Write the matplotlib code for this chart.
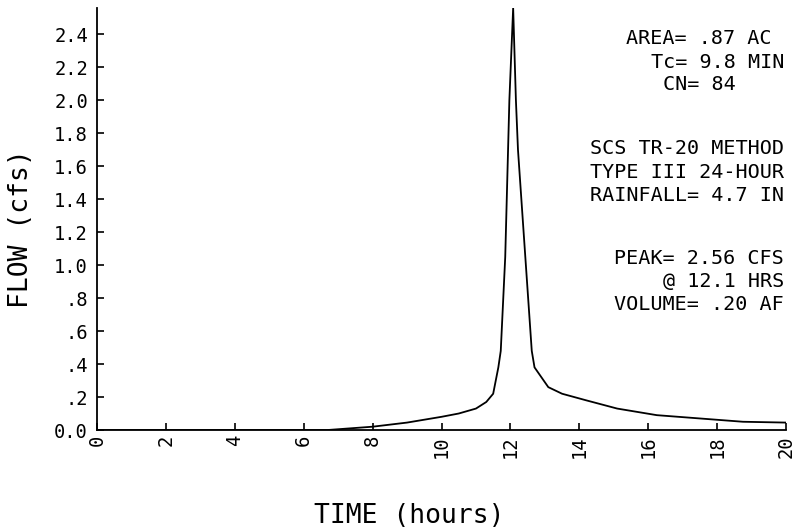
import matplotlib
matplotlib.use("Agg")
import matplotlib.pyplot as plt

# ---- data ----
time_hr = [0.0, 6.7, 8.0, 9.0, 10.0, 10.5, 11.0, 11.3, 11.5, 11.65, 11.72, 11.85,
           11.97, 12.08, 12.16, 12.22, 12.4, 12.62, 12.7, 13.1, 13.5, 14.2, 15.1,
           16.25, 17.5, 18.75, 20.0]
flow_cfs = [0.0, 0.0, 0.02, 0.045, 0.08, 0.10, 0.13, 0.17, 0.22, 0.38, 0.48, 1.05,
            2.0, 2.56, 2.0, 1.7, 1.15, 0.48, 0.38, 0.26, 0.22, 0.18, 0.13,
            0.09, 0.07, 0.05, 0.045]

x_ticks = [0, 2, 4, 6, 8, 10, 12, 14, 16, 18, 20]
x_tick_labels = ["0", "2", "4", "6", "8", "10", "12", "14", "16", "18", "20"]
y_ticks = [0.0, 0.2, 0.4, 0.6, 0.8, 1.0, 1.2, 1.4, 1.6, 1.8, 2.0, 2.2, 2.4]
y_tick_labels = ["0.0", ".2", ".4", ".6", ".8", "1.0", "1.2", "1.4", "1.6",
                 "1.8", "2.0", "2.2", "2.4"]

info_lines = ["AREA= .87 AC ", "Tc= 9.8 MIN", "CN= 84    ",
              "SCS TR-20 METHOD", "TYPE III 24-HOUR", "RAINFALL= 4.7 IN",
              "PEAK= 2.56 CFS", "@ 12.1 HRS", "VOLUME= .20 AF"]
info_y_px = [38, 62, 85, 148, 172, 195, 258, 282, 305]

x_label = "TIME (hours)"
y_label = "FLOW (cfs)"

# ---- figure ----
W, H, DPI = 793, 531, 100
FONT = "DejaVu Sans Mono"
fig = plt.figure(figsize=(W / DPI, H / DPI), dpi=DPI)
fig.patch.set_facecolor("white")

left, right, bottom, top = 97, 786, 430, 8
ax = fig.add_axes([left / W, 1 - bottom / H, (right - left) / W, (bottom - top) / H])
ax.plot(time_hr, flow_cfs, color="black", lw=1.3)
ax.set_xlim(0, 20)
ax.set_ylim(0, 2.56)

for s in ("top", "right"):
    ax.spines[s].set_visible(False)
for s in ("left", "bottom"):
    ax.spines[s].set_linewidth(1.3)
    ax.spines[s].set_color("black")

ax.set_xticks(x_ticks)
ax.set_xticklabels(x_tick_labels, rotation=90, family=FONT, fontsize=13.5)
ax.set_yticks(y_ticks)
ax.set_yticklabels(y_tick_labels, family=FONT, fontsize=13.5)
ax.tick_params(axis="both", direction="in", length=5, width=1.2, color="black")
ax.tick_params(axis="x", pad=3.6)
ax.tick_params(axis="y", pad=6.5)

# annotation block (right aligned)
fs_info = 14.5
adv = 0.602 * fs_info * DPI / 72.0
for line, ypx in zip(info_lines, info_y_px):
    txt = line.rstrip(" ")
    k = len(line) - len(txt)
    fig.text((784 - k * adv) / W, 1 - ypx / H, txt, ha="right", va="center",
             family=FONT, fontsize=fs_info, color="black")

fig.text(409 / W, 1 - 516 / H, x_label, ha="center", va="center",
         family=FONT, fontsize=19, color="black")
fig.text(21 / W, 1 - 229 / H, y_label, ha="center", va="center", rotation=90,
         family=FONT, fontsize=19, color="black")

fig.savefig("out.png", dpi=DPI, facecolor="white")
